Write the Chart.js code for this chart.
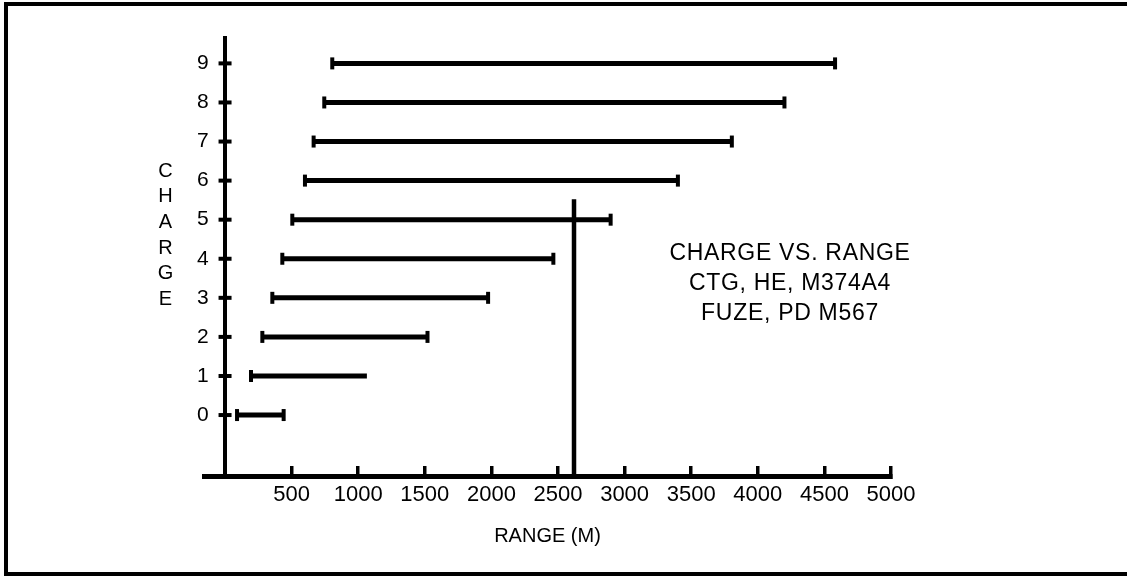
<!DOCTYPE html>
<html>
<head>
<meta charset="utf-8">
<title>Charge vs. Range</title>
<script src="https://cdn.jsdelivr.net/npm/chart.js@4.4.1/dist/chart.umd.min.js"></script>
<style>
  html, body { margin: 0; padding: 0; background: #fff; overflow: hidden; }
  #wrap { position: relative; width: 1127px; height: 576px; }
  #c { position: absolute; left: 0; top: 0; }
  #frame {
    position: absolute; left: 4px; top: 2px;
    width: 1140px; height: 566px;
    border: 4px solid #000; pointer-events: none;
  }
</style>
</head>
<body>
<div id="wrap">
  <canvas id="c" width="1127" height="576"></canvas>
  <div id="frame"></div>
</div>
<script>
// Propellant charge numbers and the usable range band (metres) for each
const charges = [0, 1, 2, 3, 4, 5, 6, 7, 8, 9];
const minRange = [90, 195, 280, 355, 430, 505, 600, 665, 745, 805];
const maxRange = [440, 1065, 1520, 1975, 2465, 2895, 3400, 3805, 4200, 4580];
// charges whose far end is drawn open (no end bar)
const openEnded = [1];
// reference range line
const markerRange = 2620;
const markerTop = 5.52;
const xTicks = [500, 1000, 1500, 2000, 2500, 3000, 3500, 4000, 4500, 5000];
const captionLines = ['CHARGE VS. RANGE', 'CTG, HE, M374A4', 'FUZE, PD M567'];
const yTitle = 'CHARGE';

const X_MIN = -158, X_MAX = 5000, Y_MIN = -1.56, Y_MAX = 9.65;
const FONT = '"Liberation Sans", Arial, sans-serif';

const rangeSets = charges.map((c, i) => ({
  data: [{x: minRange[i], y: c}, {x: maxRange[i], y: c}],
  showLine: true,
  borderColor: '#000',
  borderWidth: 5,
  borderCapStyle: 'butt',
  pointStyle: 'line',
  rotation: 90,
  pointRadius: openEnded.includes(c) ? [6, 0] : 6,
  pointBorderWidth: 4,
  pointBorderColor: '#000',
  pointBackgroundColor: '#000',
  clip: false
}));

// short marks crossing the charge axis at each charge
const tickMarkSet = {
  data: charges.map(c => ({x: 0, y: c})),
  showLine: false,
  pointStyle: 'line',
  rotation: 0,
  pointRadius: 6.5,
  pointBorderWidth: 4,
  pointBorderColor: '#000',
  clip: false
};

const markerSet = {
  data: [{x: markerRange, y: markerTop}, {x: markerRange, y: Y_MIN}],
  showLine: true,
  borderColor: '#000',
  borderWidth: 4.5,
  pointRadius: 0,
  clip: false
};

// stacked axis title and the caption block
const textPlugin = {
  id: 'chartText',
  afterDraw(chart) {
    const ctx = chart.ctx;
    ctx.save();
    ctx.fillStyle = '#000';
    ctx.textAlign = 'center';
    ctx.textBaseline = 'middle';
    ctx.font = '20px ' + FONT;
    yTitle.split('').forEach((ch, i) => {
      ctx.fillText(ch, 165.5, 171 + i * 25.7);
    });
    ctx.font = '23px ' + FONT;
    if ('letterSpacing' in ctx) ctx.letterSpacing = '0.7px';
    captionLines.forEach((line, i) => {
      ctx.fillText(line, 790, 254 + i * 30);
    });
    ctx.restore();
  }
};

const chargeTicks = scale => { scale.ticks = charges.map(v => ({value: v})); };

new Chart(document.getElementById('c'), {
  type: 'scatter',
  data: { datasets: [...rangeSets, tickMarkSet, markerSet] },
  plugins: [textPlugin],
  options: {
    responsive: false,
    animation: false,
    events: [],
    layout: { padding: { left: 204, right: 236, top: 38, bottom: 0 } },
    plugins: { legend: { display: false }, tooltip: { enabled: false } },
    scales: {
      x: {
        type: 'linear',
        min: X_MIN,
        max: X_MAX,
        afterBuildTicks(scale) { scale.ticks = xTicks.map(v => ({value: v})); },
        afterFit(scale) { scale.height = 100; },
        grid: {
          drawOnChartArea: false,
          drawTicks: true,
          tickLength: -10,
          lineWidth: 3.5,
          color: '#000'
        },
        border: { display: true, width: 5, color: '#000' },
        ticks: {
          color: '#000',
          font: { family: FONT, size: 22 },
          padding: 16,
          maxRotation: 0,
          autoSkip: false,
          callback: v => String(v)
        },
        title: {
          display: true,
          text: 'RANGE (M)',
          color: '#000',
          font: { family: FONT, size: 20 },
          padding: { top: 0, bottom: 28 }
        }
      },
      // charge axis line, crossing the range axis at 0 m
      y: {
        type: 'linear',
        position: { x: 0 },
        min: Y_MIN,
        max: Y_MAX,
        afterBuildTicks: chargeTicks,
        grid: { drawOnChartArea: false, drawTicks: false },
        border: { display: true, width: 4, color: '#000' },
        ticks: { display: false }
      },
      // charge numbers, set just left of the axis line
      yLabels: {
        type: 'linear',
        axis: 'y',
        position: 'left',
        min: Y_MIN,
        max: Y_MAX,
        afterBuildTicks: chargeTicks,
        afterFit(scale) { scale.width = 0; },
        grid: { display: false, drawTicks: false },
        border: { display: false },
        ticks: {
          color: '#000',
          font: { family: FONT, size: 21 },
          mirror: true,
          padding: -7,
          autoSkip: false,
          callback: v => String(v)
        }
      }
    }
  }
});
</script>
</body>
</html>
